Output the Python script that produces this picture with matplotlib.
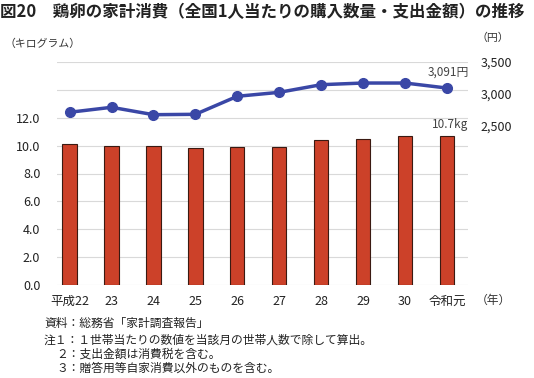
import matplotlib
matplotlib.use("Agg")
import matplotlib.pyplot as plt

plt.rcParams['font.family'] = ['Noto Sans CJK JP', 'DejaVu Sans']

years = ["平成22", "23", "24", "25", "26", "27", "28", "29", "30", "令和元"]
quantity_kg = [10.1, 10.0, 10.0, 9.8, 9.9, 9.9, 10.4, 10.5, 10.7, 10.7]
spending_yen = [2711, 2789, 2673, 2679, 2962, 3024, 3144, 3170, 3170, 3091]
left_ticks = [0, 2, 4, 6, 8, 10, 12]
right_ticks = [2500, 3000, 3500]

fig = plt.figure(figsize=(5.34, 3.78), dpi=100)
ax = fig.add_axes([57/534, 1-285/378, (468-57)/534, (285-62)/378])
x = list(range(len(years)))

ax.bar(x, quantity_kg, width=0.34, color="#CC4129", edgecolor="#3a1a12", linewidth=0.8, zorder=3)
ax.set_ylim(0, 16)
ax.set_yticks(range(0, 17, 2))
ax.set_yticklabels([f"{v:.1f}" if v in left_ticks else "" for v in range(0, 17, 2)])
ax.yaxis.grid(True, color="#d9d9d9", linewidth=0.8, zorder=0)
ax.set_axisbelow(True)
ax.set_xlim(-0.3, 9.5)
ax.set_xticks(x)
ax.set_xticklabels(years)
for s in ax.spines.values():
    s.set_visible(False)
ax.tick_params(axis='both', length=0, labelsize=9, colors="#222222")
ax.tick_params(axis='x', pad=7)
ax.tick_params(axis='y', pad=12)

ax2 = ax.twinx()
ax2.set_ylim(0, 3500)
ax2.plot(x, spending_yen, color="#3A47A6", linewidth=2.5, marker="o", markersize=7, zorder=4)
ax2.set_yticks(right_ticks)
ax2.set_yticklabels([f"{v:,}" for v in right_ticks])
for s in ax2.spines.values():
    s.set_visible(False)
ax2.tick_params(axis='y', length=0, labelsize=9, colors="#222222", pad=9)

ax2.annotate(f"{spending_yen[-1]:,}円", (x[-1], spending_yen[-1]), xytext=(15.5, 7),
             textcoords="offset points", ha="right", va="bottom", fontsize=8.5, color="#444444")
ax.annotate(f"{quantity_kg[-1]}kg", (x[-1], quantity_kg[-1]), xytext=(15.5, 3.5),
            textcoords="offset points", ha="right", va="bottom", fontsize=8.5, color="#444444")

fig.text(0, 1-12/378, "図20　鶏卵の家計消費（全国1人当たりの購入数量・支出金額）の推移",
         fontsize=11.9, fontweight="bold", va="center", ha="left", color="#222222")
fig.text(5/534, 1-44/378, "（キログラム）", fontsize=7.8, va="center", color="#333333")
fig.text(476/534, 1-38/378, "（円）", fontsize=7.8, va="center", color="#333333")
fig.text(476/534, 1-300/378, "（年）", fontsize=8.5, va="center", color="#333333")

notes = [
    (44, 323, "資料：総務省「家計調査報告」"),
    (44, 340, "注１：１世帯当たりの数値を当該月の世帯人数で除して算出。"),
    (56, 354, "２：支出金額は消費税を含む。"),
    (56, 368, "３：贈答用等自家消費以外のものを含む。"),
]
for nx, ny, t in notes:
    fig.text(nx/534, 1-ny/378, t, fontsize=8.5, va="center", color="#222222")

fig.savefig("out.png", dpi=100)
